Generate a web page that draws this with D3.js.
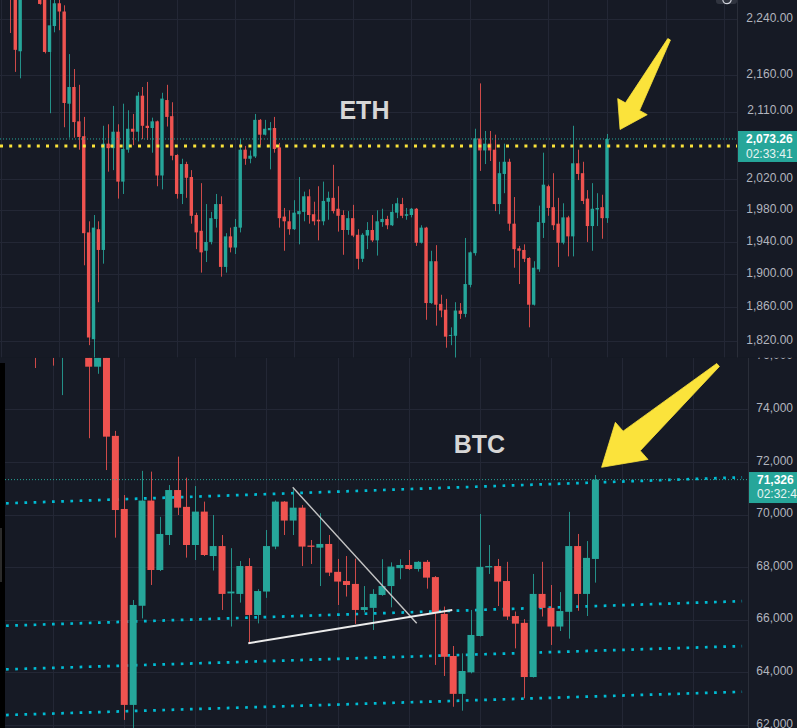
<!DOCTYPE html>
<html><head><meta charset="utf-8">
<script src="https://cdn.jsdelivr.net/npm/d3@7"></script>
<style>html,body{margin:0;padding:0;background:#161a25;overflow:hidden}svg{display:block}</style>
</head><body>
<svg id="c" width="797" height="728"></svg>
<script>
// ---------------- ETH data (1 candle per index) ----------------
const ethOpen  = [2300,2295,2290,2280,2194,2285,2290,2285,2290,2270,2193,2230,2263,2251,2121,2144,2097,2077,1952,1822,1956,1930,2067,2061,2083,2017,2059,2087,2083,2132,2091,2088,2097,2025,2126,2104,2052,2001,2040,2023,1974,1954,1929,1940,1969,1988,1909,1947,1933,1958,2059,2047,2050,2099,2079,2085,2088,2062,1972,1966,1956,1975,1978,1998,1975,1968,1966,1991,1996,1982,1974,1955,1970,1949,1919,1948,1955,1942,1965,1969,1961,1977,1988,1973,1974,1982,1939,1958,1865,1916,1864,1857,1826,1826,1856,1852,1887,1926,2074,2058,2067,2059,1988,2027,2043,1963,1932,1930,1920,1863,1906,1964,2011,1984,1963,1939,1971,1947,2041,2028,1995,1960,1981,1984,1970];
const ethHigh  = [2310,2305,2300,2292,2295,2300,2305,2295,2298,2275,2275,2272,2272,2260,2190,2169,2147,2103,1966,1974,1966,2091,2093,2118,2093,2121,2112,2107,2137,2144,2151,2102,2098,2136,2147,2123,2053,2047,2043,2032,1977,2015,1988,1978,2001,1998,1951,1958,1969,2073,2064,2058,2107,2100,2099,2096,2103,2068,1983,1980,1993,2023,2004,2007,1991,2011,2017,2004,2039,2011,1980,1979,1987,1956,1951,1965,1974,1980,1982,1973,1988,1996,1996,1983,1983,1983,1961,1959,1929,1936,1875,1870,1836,1866,1865,1945,1928,2087,2149,2084,2084,2079,2043,2067,2047,1997,1935,1937,1921,1916,1986,2055,2013,2028,1996,1989,1973,2091,2059,2043,2006,2015,2002,2000,2080];
const ethLow   = [2290,2285,2220,2165,2156,2275,2280,2272,2261,2191,2108,2221,2224,2089,2075,2075,2059,1911,1815,1800,1866,1913,2030,2032,1995,2001,2055,2065,2070,2073,2072,2055,2011,2007,2090,2045,1995,1988,1996,1963,1931,1902,1915,1937,1958,1897,1902,1927,1925,1952,2039,2041,2048,2065,2078,2033,2055,1958,1929,1949,1955,1937,1966,1963,1961,1942,1961,1968,1976,1953,1924,1949,1946,1906,1915,1931,1940,1923,1959,1956,1960,1970,1970,1968,1971,1935,1938,1845,1864,1838,1848,1812,1815,1799,1846,1848,1884,1923,2031,2040,2044,1979,1975,2002,1954,1908,1888,1915,1836,1862,1903,1945,1973,1955,1909,1937,1922,1922,2019,1988,1940,1929,1960,1944,1964];
const ethClose = [2295,2300,2272,2196,2282,2290,2285,2290,2262,2193,2231,2263,2251,2122,2144,2096,2076,1951,1824,1958,1930,2067,2061,2083,2017,2060,2087,2083,2132,2091,2088,2097,2025,2128,2103,2051,2001,2040,2022,1973,1952,1927,1940,1970,1988,1909,1947,1933,1959,2059,2047,2051,2099,2079,2087,2088,2060,1970,1966,1956,1977,1979,1998,1974,1966,1966,1992,1996,1979,1973,1955,1970,1948,1919,1949,1955,1942,1966,1969,1961,1978,1989,1973,1975,1982,1939,1958,1865,1916,1863,1856,1825,1827,1856,1852,1888,1927,2074,2058,2067,2058,1988,2028,2043,1963,1931,1929,1919,1863,1908,1965,2013,1983,1961,1939,1971,1947,2041,2027,1992,1960,1982,1983,1970,2073.26];
const ethTicks = [2240,2160,2110,2020,1980,1940,1900,1860,1820];
const ethGridIdx = [0,12,24,36,48,60,72,84,96,112,124,136,148];
const ethLast = 2073.26, ethTimer = "02:33:41";
const ethMarkLevel = 2064;            // yellow dotted level
const ethArrow = {tail:[136.7,2211], tip:[126.67,2086]};
const ethTitle = {label:"ETH", at:[74.4,2100]};

// ---------------- BTC data ----------------
const btcOpen  = [76800,77000,76700,76600,76200,76500,76200,76600,76800,76400,75620,76050,72990,70210,62760,66530,70530,67890,69220,70930,70290,68840,70110,68420,68800,67000,66980,68040,66180,67070,68780,70490,69770,70260,68820,68740,68880,67820,67470,67360,66370,66450,66940,67280,67960,68080,67930,68200,67620,66220,64620,63180,64000,65380,67990,68040,67470,66140,65880,63820,66980,66450,65740,66300,68800,66980,68310];
const btcHigh  = [77200,77300,77000,76800,76700,76900,76800,77000,77100,76600,76300,76300,73180,70740,66750,71660,71630,69910,71120,72200,71400,71080,70490,69980,69220,68720,68230,68340,67160,69410,70530,70510,70960,70360,69030,70050,69220,68310,68420,68320,67280,67160,68300,68180,68300,68650,68230,68270,67660,66500,65000,64720,66370,70020,68840,68310,68200,66310,66020,67740,68200,67320,67050,70100,69260,68990,71500];
const btcLow   = [76500,76600,76300,75570,76100,75660,74540,76300,76200,72900,75350,71690,69120,62190,61870,66050,67320,67850,68840,69980,68360,68270,68420,67870,66370,65740,66650,65080,65860,66830,68680,69220,69220,68040,68120,67280,67660,66560,66880,65840,66280,65610,66910,66470,67540,67890,67830,67180,64280,63860,62690,62540,63960,65360,67740,66520,65990,64910,63010,63800,66120,65040,65570,65280,66340,66140,67410];
const btcClose = [77000,76700,76500,76200,76500,76300,76600,76800,76400,75620,76100,72960,70170,62760,66560,70530,67890,69260,70930,70260,68840,70110,68460,68800,66980,67070,68040,66180,67090,68800,70490,69770,70260,68780,68770,68880,67790,67450,67320,66370,66480,66980,67280,68020,68080,67930,68200,67600,66260,64590,63180,64050,65420,68010,68040,67450,66120,65850,63820,66980,66450,65740,66330,68800,66980,68350,71326];
const btcTicks = [76000,74000,72000,70000,68000,66000,64000,62000];
const btcGridIdx = [5,13,21,29,37,45,53,61,69,77];
const btcLast = 71326, btcTimer = "02:32:41";
// dotted cyan channel lines: [[index, price],[index, price]]
const btcChannels = [
  [[-0.3,70424],[82.5,71415]],
  [[-0.3,65770],[82.5,66705]],
  [[-0.3,64112],[82.5,64997]],
  [[-0.3,62375],[82.5,63260]]
];
// white triangle lines
const btcWhite = [
  [[31.95,71035],[45.9,65864]],
  [[26.95,65104],[49.9,66370]]
];
const btcArrow = {tail:[79.8,75685], tip:[66.7,71795]};
const btcTitle = {label:"BTC", at:[52.96,72328]};

// ---------------- drawing ----------------
const W = 797, H = 728, SPLIT = 357.7;
const UP = "#26a69a", DOWN = "#ef5350", BG = "#161a25", GRID = "#232735";
const AXIS_TXT = "#b2b5be", BORDER = "#2a2e39", YELLOW = "#fbe33b", CYAN = "#00bcd4";
const FONT = "'Liberation Sans', Arial, sans-serif";

const svg = d3.select("#c");
const defs = svg.append("defs");
defs.append("clipPath").attr("id","clipE").append("rect").attr("x",0).attr("y",0).attr("width",737).attr("height",SPLIT);
defs.append("clipPath").attr("id","clipEall").append("rect").attr("x",0).attr("y",0).attr("width",W).attr("height",SPLIT);
defs.append("clipPath").attr("id","clipB").append("rect").attr("x",5).attr("y",SPLIT).attr("width",743).attr("height",H-SPLIT);
defs.append("clipPath").attr("id","clipBall").append("rect").attr("x",0).attr("y",SPLIT).attr("width",W).attr("height",H-SPLIT);

function arrowPath(t, p, tailHalf, shaftHalf, headHalf, headLen){
  const dx=p[0]-t[0], dy=p[1]-t[1], L=Math.hypot(dx,dy);
  const ux=dx/L, uy=dy/L, nx=-uy, ny=ux;
  const bx=p[0]-ux*headLen, by=p[1]-uy*headLen;
  const pts=[[t[0]+nx*tailHalf,t[1]+ny*tailHalf],[bx+nx*shaftHalf,by+ny*shaftHalf],[bx+nx*headHalf,by+ny*headHalf],p,
             [bx-nx*headHalf,by-ny*headHalf],[bx-nx*shaftHalf,by-ny*shaftHalf],[t[0]-nx*tailHalf,t[1]-ny*tailHalf]];
  return d3.line()(pts)+"Z";
}

function drawCandles(g, data, x, y, bw){
  const c = g.append("g").selectAll("g").data(data).join("g");
  c.append("line")
    .attr("x1",d=>Math.round(x(d.i))+0.5).attr("x2",d=>Math.round(x(d.i))+0.5)
    .attr("y1",d=>y(d.h)).attr("y2",d=>y(d.l))
    .attr("stroke",d=>d.c>=d.o?UP:DOWN).attr("stroke-width",1).attr("stroke-opacity",0.85);
  c.append("rect")
    .attr("x",d=>x(d.i)-bw/2).attr("width",bw)
    .attr("y",d=>y(Math.max(d.o,d.c)))
    .attr("height",d=>Math.max(1,Math.abs(y(d.o)-y(d.c))))
    .attr("fill",d=>d.c>=d.o?UP:DOWN);
}

// ===== ETH panel =====
const xE = d3.scaleLinear().domain([0,124]).range([0.6,607]);
const yE = d3.scaleLog().domain([1820,2240]).range([340.9,19.1]);
const eth = ethOpen.map((o,i)=>({i,o,h:ethHigh[i],l:ethLow[i],c:ethClose[i]}));

const gEall = svg.append("g").attr("clip-path","url(#clipEall)");
gEall.append("rect").attr("width",W).attr("height",SPLIT).attr("fill",BG);
const gE = gEall.append("g").attr("clip-path","url(#clipE)");
gE.selectAll(".hg").data(ethTicks).join("line")
  .attr("x1",0).attr("x2",737).attr("y1",d=>Math.round(yE(d))+0.5).attr("y2",d=>Math.round(yE(d))+0.5)
  .attr("stroke",GRID).attr("stroke-width",1);
gE.selectAll(".vg").data(ethGridIdx).join("line")
  .attr("x1",d=>Math.round(xE(d))+0.5).attr("x2",d=>Math.round(xE(d))+0.5).attr("y1",0).attr("y2",SPLIT)
  .attr("stroke",GRID).attr("stroke-width",1);
drawCandles(gE, eth, xE, yE, 3.4);
// current price line
gE.append("line").attr("x1",0).attr("x2",737).attr("y1",yE(ethLast)).attr("y2",yE(ethLast))
  .attr("stroke",UP).attr("stroke-width",1).attr("stroke-dasharray","1,2");
// yellow level
gE.append("line").attr("x1",0).attr("x2",737).attr("y1",yE(ethMarkLevel)).attr("y2",yE(ethMarkLevel))
  .attr("stroke",YELLOW).attr("stroke-width",3).attr("stroke-dasharray","3,6.2");
// title
gE.append("text").attr("x",xE(ethTitle.at[0])).attr("y",yE(ethTitle.at[1]))
  .attr("text-anchor","middle").attr("font-family",FONT).attr("font-weight","bold").attr("font-size",25)
  .attr("fill","#d6d6d6").text(ethTitle.label);
// arrow
const eT=[xE(ethArrow.tail[0]),yE(ethArrow.tail[1])], eP=[xE(ethArrow.tip[0]),yE(ethArrow.tip[1])];
gEall.append("path").attr("d",arrowPath(eT,eP,1.5,8,16.8,26)).attr("fill",YELLOW)
  .attr("stroke",YELLOW).attr("stroke-width",0.8).attr("stroke-linejoin","round");
// axis
gEall.append("line").attr("x1",737.5).attr("x2",737.5).attr("y1",0).attr("y2",SPLIT).attr("stroke",BORDER);
gEall.selectAll(".yl").data(ethTicks).join("text")
  .attr("x",793).attr("y",d=>yE(d)-1.5).attr("dy","0.35em").attr("text-anchor","end")
  .attr("font-family",FONT).attr("font-size",12).attr("fill",AXIS_TXT)
  .text(d=>d3.format(",.2f")(d));
// price box
const eY = yE(ethLast);
gEall.append("rect").attr("x",738).attr("y",eY-8).attr("width",59).attr("height",31).attr("fill",UP);
gEall.append("text").attr("x",746).attr("y",eY).attr("dy","0.35em").attr("font-family",FONT).attr("font-size",12)
  .attr("font-weight","bold").attr("fill","#ffffff").text(d3.format(",.2f")(ethLast));
gEall.append("text").attr("x",746).attr("y",eY+14.5).attr("dy","0.35em").attr("font-family",FONT).attr("font-size",12)
  .attr("fill","#e6f4f2").text(ethTimer);
// top-right button
gEall.append("rect").attr("x",716).attr("y",-6).attr("width",21).attr("height",10).attr("rx",3).attr("fill","#30343f");
gEall.append("circle").attr("cx",727).attr("cy",-0.5).attr("r",4.2).attr("fill","none").attr("stroke","#d1d4dc").attr("stroke-width",1.2);

// ===== BTC panel =====
const xB = d3.scaleLinear().domain([0,66]).range([8.7,595.4]);
const yB = d3.scaleLinear().domain([62000,74000]).range([724.9,409.3]);
const btc = btcOpen.map((o,i)=>({i,o,h:btcHigh[i],l:btcLow[i],c:btcClose[i]}));

const gBall = svg.append("g").attr("clip-path","url(#clipBall)");
gBall.append("rect").attr("y",SPLIT).attr("width",W).attr("height",H-SPLIT).attr("fill",BG);
const gB = gBall.append("g").attr("clip-path","url(#clipB)");
gB.selectAll(".hg").data(btcTicks).join("line")
  .attr("x1",5).attr("x2",748).attr("y1",d=>Math.round(yB(d))+0.5).attr("y2",d=>Math.round(yB(d))+0.5)
  .attr("stroke",GRID);
gB.selectAll(".vg").data(btcGridIdx).join("line")
  .attr("x1",d=>Math.round(xB(d))+0.5).attr("x2",d=>Math.round(xB(d))+0.5).attr("y1",SPLIT).attr("y2",H)
  .attr("stroke",GRID);
// channel lines
gB.selectAll(".ch").data(btcChannels).join("line")
  .attr("x1",d=>xB(d[0][0])).attr("y1",d=>yB(d[0][1])).attr("x2",d=>xB(d[1][0])).attr("y2",d=>yB(d[1][1]))
  .attr("stroke",CYAN).attr("stroke-width",2.7).attr("stroke-dasharray","2.7,6.5");
drawCandles(gB, btc, xB, yB, 7);
// white lines
gB.selectAll(".wl").data(btcWhite).join("line")
  .attr("x1",d=>xB(d[0][0])).attr("y1",d=>yB(d[0][1])).attr("x2",d=>xB(d[1][0])).attr("y2",d=>yB(d[1][1]))
  .attr("stroke",(d,i)=>i===0?"#c4c4c4":"#ececec").attr("stroke-width",(d,i)=>i===0?1.4:1.9);
// current price line
gB.append("line").attr("x1",5).attr("x2",748).attr("y1",yB(btcLast)).attr("y2",yB(btcLast))
  .attr("stroke",UP).attr("stroke-width",1).attr("stroke-dasharray","1,2");
gB.append("text").attr("x",xB(btcTitle.at[0])).attr("y",yB(btcTitle.at[1]))
  .attr("text-anchor","middle").attr("font-family",FONT).attr("font-weight","bold").attr("font-size",25)
  .attr("fill","#d6d6d6").text(btcTitle.label);
const bT=[xB(btcArrow.tail[0]),yB(btcArrow.tail[1])], bP=[xB(btcArrow.tip[0]),yB(btcArrow.tip[1])];
gB.append("path").attr("d",arrowPath(bT,bP,2,13,24.7,40)).attr("fill",YELLOW)
  .attr("stroke",YELLOW).attr("stroke-width",0.8).attr("stroke-linejoin","round");
// left strip
gBall.append("rect").attr("x",0).attr("y",363).attr("width",5).attr("height",H-363).attr("fill","#000");
gBall.append("rect").attr("x",0).attr("y",528).attr("width",2).attr("height",54).attr("fill","#2b2b2b");
// axis
gBall.append("line").attr("x1",748.5).attr("x2",748.5).attr("y1",SPLIT).attr("y2",H).attr("stroke",BORDER);
gBall.selectAll(".yl").data(btcTicks).join("text")
  .attr("x",793).attr("y",d=>yB(d)-1.5).attr("dy","0.35em").attr("text-anchor","end")
  .attr("font-family",FONT).attr("font-size",12).attr("fill",AXIS_TXT)
  .text(d=>d3.format(",")(d));
const bY = yB(btcLast);
gBall.append("rect").attr("x",749).attr("y",bY-7.6).attr("width",48).attr("height",31).attr("fill",UP);
gBall.append("text").attr("x",757).attr("y",bY).attr("dy","0.35em").attr("font-family",FONT).attr("font-size",12)
  .attr("font-weight","bold").attr("fill","#ffffff").text(d3.format(",")(btcLast));
gBall.append("text").attr("x",757).attr("y",bY+14.5).attr("dy","0.35em").attr("font-family",FONT).attr("font-size",12)
  .attr("fill","#e6f4f2").text(btcTimer);
</script>
</body></html>
